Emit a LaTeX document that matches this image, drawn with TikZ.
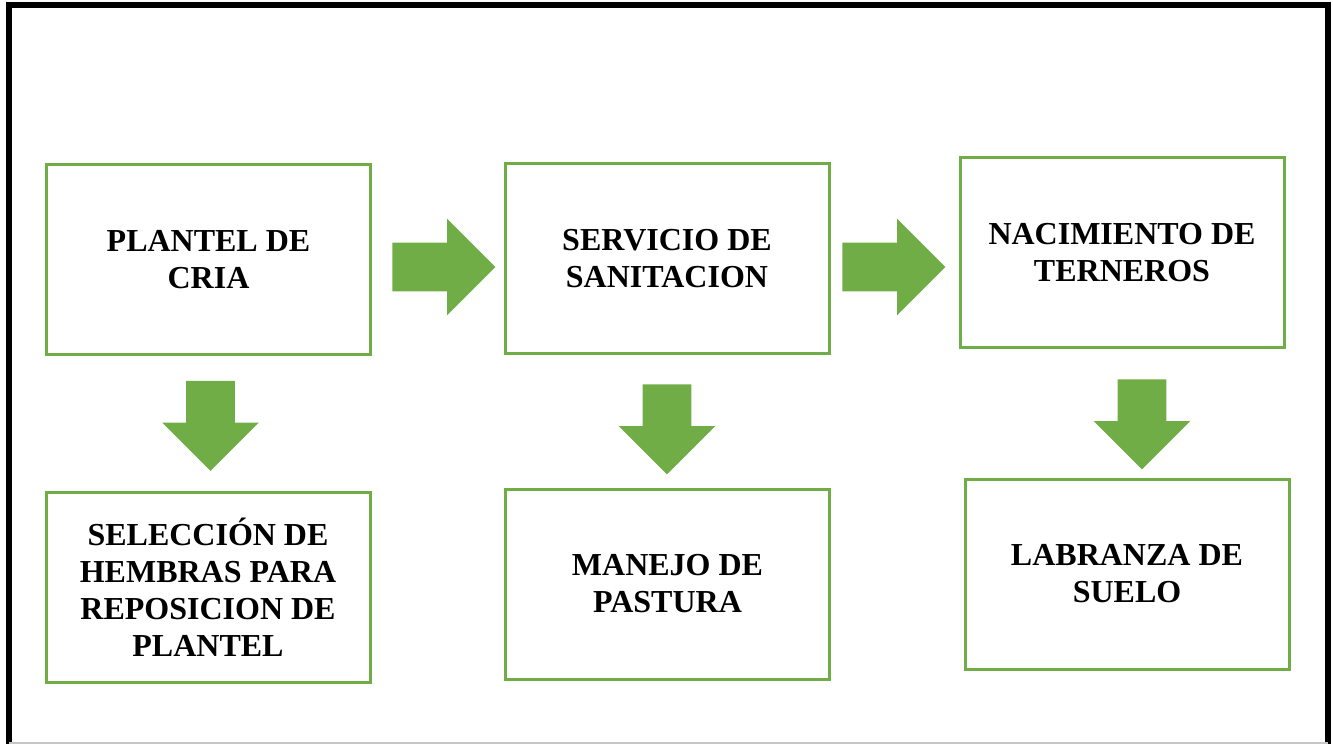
\documentclass[tikz,border=0pt]{standalone}
\usepackage{fontspec}
\setmainfont{Liberation Serif}
\usetikzlibrary{shapes.arrows}

\definecolor{leafgreen}{HTML}{70AD47}

\tikzset{
  stagebox/.style={draw=leafgreen, line width=1.5pt, rectangle,
    minimum width=162pt, minimum height=95pt, inner sep=0pt,
    align=center, font=\bfseries\fontsize{16}{18.5}\selectfont},
  flowarrow/.style={single arrow, fill=leafgreen, draw=none,
    inner xsep=0pt, inner ysep=12pt, anchor=tip,
    single arrow head extend=12pt, single arrow tip angle=90}
}

\begin{document}
\begin{tikzpicture}[x=0.5pt, y=-0.5pt]
\useasboundingbox (0,0) rectangle (1333,744);

% Draw outer frame.
\draw[line width=3pt] (9,748) -- (9,4.5) -- (1328,4.5) -- (1328,748);
\draw[gray!45, line width=0.6pt] (9,743) -- (1328,743);

% Draw stages.
\node[stagebox] (plantel) at (208.5,259.5) {PLANTEL DE\\CRIA};
\node[stagebox] (servicio) at (667,258.5) {SERVICIO DE\\SANITACION};
\node[stagebox] (nacimiento) at (1122,252.5) {NACIMIENTO DE\\TERNEROS};
\node[stagebox] (seleccion) at (208,587.5)
  {SELECCIÓN DE\\HEMBRAS PARA\\REPOSICION DE\\PLANTEL};
\node[stagebox] (manejo) at (667.5,584) {MANEJO DE\\PASTURA};
\node[stagebox] (labranza) at (1127,574) {LABRANZA DE\\SUELO};

% Draw block arrows (placed by their tips).
\node[flowarrow, minimum height=51.5pt] (plantel-servicio) at (496,267) {};
\node[flowarrow, minimum height=51.5pt] (servicio-nacimiento) at (946,267) {};
\node[flowarrow, minimum height=45pt, rotate=-90] (plantel-seleccion) at (210.5,471.5) {};
\node[flowarrow, minimum height=45pt, rotate=-90] (servicio-manejo) at (667,475) {};
\node[flowarrow, minimum height=45pt, rotate=-90] (nacimiento-labranza) at (1142,470) {};

\end{tikzpicture}
\end{document}
